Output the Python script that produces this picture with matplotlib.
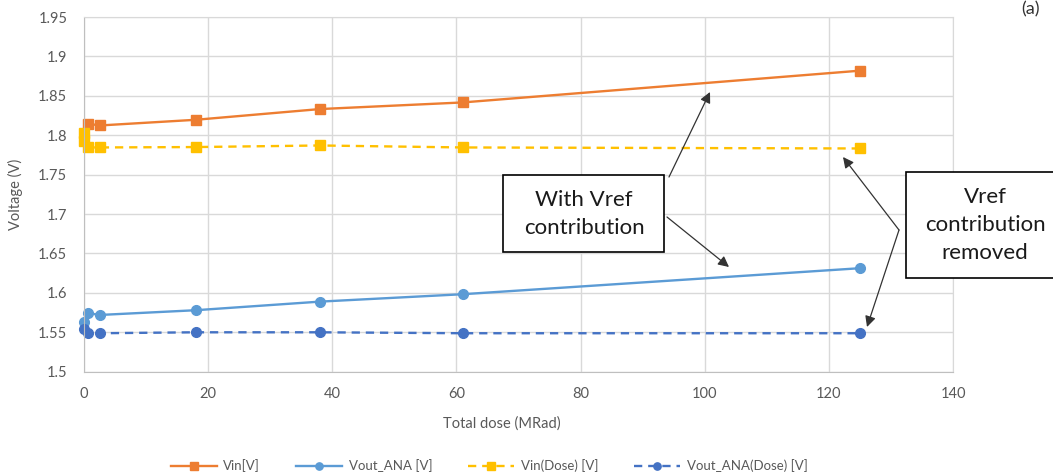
import matplotlib
matplotlib.use("Agg")
import matplotlib.pyplot as plt
from matplotlib.patches import Rectangle

plt.rcParams['font.family'] = ['Lato', 'DejaVu Sans']

# values
dose_vin = [0.7, 2.6, 18, 38, 61, 125]
vin = [1.8145, 1.8124, 1.8196, 1.8332, 1.8416, 1.8819]

dose_vout = [0, 0.7, 2.6, 18, 38, 61, 125]
vout_ana = [1.5631, 1.5742, 1.5720, 1.5780, 1.5889, 1.5983, 1.6313]

dose_vin_d = [0, 0, 0.7, 2.6, 18, 38, 61, 125]
vin_dose = [1.8030, 1.7930, 1.7845, 1.7845, 1.7850, 1.7870, 1.7845, 1.7832]

dose_vout_d = [0, 0.7, 2.6, 18, 38, 61, 125]
vout_ana_dose = [1.5540, 1.5490, 1.5488, 1.5500, 1.5500, 1.5488, 1.5488]

W, H = 1053, 473
fig = plt.figure(figsize=(W / 100, H / 100), dpi=100)
L, R, T, B = 84, 953, 17, 371.7
ax = fig.add_axes([L / W, 1 - B / H, (R - L) / W, (B - T) / H])

grey = '#595959'
ax.plot(dose_vin, vin, color='#ED7D31', lw=1.7, marker='s', ms=7, clip_on=False, label='Vin[V]')
ax.plot(dose_vout, vout_ana, color='#5B9BD5', lw=1.7, marker='o', ms=7, clip_on=False,
        label='Vout_ANA [V]')
ax.plot(dose_vin_d, vin_dose, color='#FFC000', lw=1.7, marker='s', ms=7, clip_on=False,
        dashes=(3.5, 2.5), label='Vin(Dose) [V]')
ax.plot(dose_vout_d, vout_ana_dose, color='#4472C4', lw=1.7, marker='o', ms=7, clip_on=False,
        dashes=(3.5, 2.5), label='Vout_ANA(Dose) [V]')

ax.set_xlim(0, 140)
ax.set_ylim(1.5, 1.95)
ax.set_xticks(range(0, 141, 20))
ax.set_yticks([1.5, 1.55, 1.6, 1.65, 1.7, 1.75, 1.8, 1.85, 1.9, 1.95])
ax.set_yticklabels(['1.5', '1.55', '1.6', '1.65', '1.7', '1.75', '1.8', '1.85', '1.9', '1.95'])
ax.grid(True, color='#D9D9D9', lw=1)
ax.set_axisbelow(True)
ax.tick_params(length=0, labelsize=10.5, labelcolor=grey)
ax.tick_params(axis='y', pad=12)
ax.tick_params(axis='x', pad=11)
for s in ax.spines.values():
    s.set_color('#D9D9D9')
ax.spines['left'].set_color('#BFBFBF')
ax.spines['bottom'].set_color('#BFBFBF')

ax.set_xlabel('Total dose (MRad)', fontsize=10.5, color=grey)
ax.xaxis.set_label_coords((502 - L) / (R - L), -(416 - B) / (B - T))
ax.set_ylabel('Voltage (V)', fontsize=10.5, color=grey)
ax.yaxis.set_label_coords(-(L - 23) / (R - L), 0.5)

fig.legend(loc='center', bbox_to_anchor=(489 / W, 1 - 466 / H), ncol=4, frameon=False,
           fontsize=9.5, labelcolor=grey, handlelength=3.5, columnspacing=2.7,
           handletextpad=0.5, markerscale=0.75)


def fp(x, y):
    return (x / W, 1 - y / H)


# callout boxes
fig.patches.append(Rectangle(fp(503, 252), 161 / W, 77.5 / H, transform=fig.transFigure,
                             fill=True, facecolor='white', edgecolor='black', lw=1.2))
fig.text(*fp(584, 214), 'With Vref\ncontribution', ha='center', va='center',
         fontsize=16, linespacing=1.5, color='#1a1a1a')
fig.patches.append(Rectangle(fp(906, 278.3), 160 / W, 106.6 / H, transform=fig.transFigure,
                             fill=True, facecolor='white', edgecolor='black', lw=1.2))
fig.text(*fp(985, 225), 'Vref\ncontribution\nremoved', ha='center', va='center',
         fontsize=16, linespacing=1.5, color='#1a1a1a')

arrows = [((669, 177), (710, 92)), ((667, 217), (729, 267)),
          ((899, 230), (843, 157)), ((899, 230), (867, 327))]
for start, tip in arrows:
    ax.annotate('', xy=fp(*tip), xycoords='figure fraction', xytext=fp(*start),
                textcoords='figure fraction',
                arrowprops=dict(arrowstyle='-|>', color='#333333', lw=0.9,
                                mutation_scale=16, shrinkA=0, shrinkB=0))

fig.text(*fp(1030, 1), '(a)', ha='center', va='top', fontsize=13, color='#333333')

fig.savefig('out.png', dpi=100)
